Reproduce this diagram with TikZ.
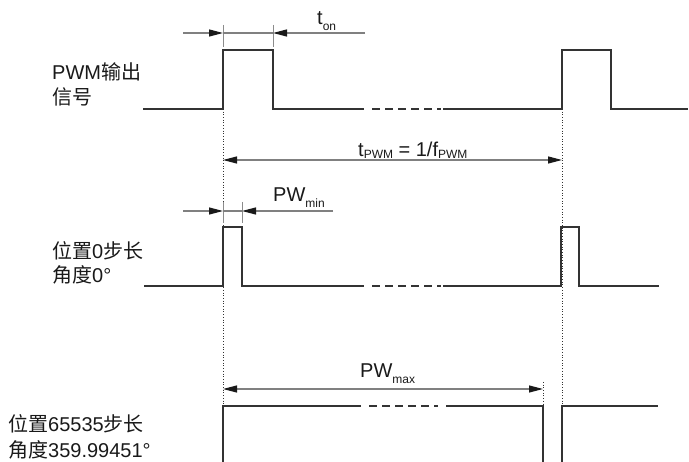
\documentclass[tikz,border=0pt]{standalone}
\usepackage{fontspec}
\setmainfont{Liberation Sans}
\newfontfamily\cjk{Noto Sans CJK SC}
\usetikzlibrary{arrows.meta}

\newcommand{\lowsub}[2][-3pt]{\raisebox{#1}{\fontsize{12}{12}\selectfont #2}}

\begin{document}
\begin{tikzpicture}[
  x=1pt, y=-1pt,
  >={Triangle[length=14pt, width=7pt, color=black!90]},
  every node/.style={font=\fontsize{20}{24}\selectfont, inner sep=0pt, text=black!90},
  signal/.style={line width=2pt, black!80},
  gapline/.style={signal, dash pattern=on 4pt off 8pt on 8pt off 5pt on 8pt off 5pt on 8pt off 5pt on 8pt off 5pt on 8pt off 5pt},
  dimline/.style={line width=1.2pt, black!50},
  tickline/.style={line width=0.8pt, black!45},
  guide/.style={line width=0.7pt, black!80, dotted}
]
\useasboundingbox (0,0) rectangle (689,462);

\node[anchor=base west] (pwm-label-a) at (52,80) {PWM{\cjk 输出}};
\node[anchor=base west] (pwm-label-b) at (52,105) {{\cjk 信号}};
\node[anchor=base west] (zero-label-a) at (52,259) {{\cjk 位置}0{\cjk 步长}};
\node[anchor=base west] (zero-label-b) at (52,283) {{\cjk 角度}0°};
\node[anchor=base west] (full-label-a) at (8,432) {{\cjk 位置}65535{\cjk 步长}};
\node[anchor=base west] (full-label-b) at (8,458) {{\cjk 角度}359.99451°};

\coordinate (ton-in) at (183,33);
\coordinate (ton-l) at (223,33);
\coordinate (ton-r) at (273,33);
\coordinate (ton-out) at (365,33);
\coordinate (tpwm-l) at (223,160);
\coordinate (tpwm-r) at (562,160);
\coordinate (pwmin-in) at (183,211);
\coordinate (pwmin-l) at (223,211);
\coordinate (pwmin-r) at (242,211);
\coordinate (pwmin-out) at (333,211);
\coordinate (pwmax-l) at (223,389);
\coordinate (pwmax-r) at (543,389);

\draw[guide] (223,109) -- (223,406);
\draw[guide] (562,109) -- (562,406);
\draw[guide] (543,382) -- (543,406);

\draw[signal] (143,109) -- (223,109) -- (223,50) -- (273,50) -- (273,109) -- (360,109);
\draw[gapline] (360,109) -- (443,109);
\draw[signal] (443,109) -- (562,109) -- (562,50) -- (611,50) -- (611,109) -- (688,109);

\draw[signal] (144,286) -- (223,286) -- (223,227) -- (242,227) -- (242,286) -- (360,286);
\draw[gapline] (360,286) -- (443,286);
\draw[signal] (443,286) -- (561,286) -- (561,227) -- (579,227) -- (579,286) -- (659,286);

\draw[signal] (223,462) -- (223,406) -- (357,406);
\draw[gapline] (357,406) -- (447,406);
\draw[signal] (447,406) -- (543,406) -- (543,462);
\draw[signal] (562,462) -- (562,406) -- (658,406);

\draw[tickline] ([yshift=8pt]ton-l) -- ([yshift=-14pt]ton-l);
\draw[tickline] ([yshift=8pt]ton-r) -- ([yshift=-14pt]ton-r);
\draw[dimline, ->] (ton-in) -- (ton-l);
\draw[dimline] (ton-l) -- (ton-r);
\draw[dimline, ->] (ton-out) -- (ton-r);
\node[anchor=base west] (ton-label) at (317,25) {t\lowsub[-6pt]{on}};

\draw[dimline, <->] (tpwm-l) -- (tpwm-r);
\node[anchor=base west] (tpwm-label) at (358,157) {t\lowsub[-2pt]{PWM} = 1/f\lowsub[-2pt]{PWM}};

\draw[tickline] ([yshift=9pt]pwmin-l) -- ([yshift=-12pt]pwmin-l);
\draw[tickline] ([yshift=9pt]pwmin-r) -- ([yshift=-12pt]pwmin-r);
\draw[dimline, ->] (pwmin-in) -- (pwmin-l);
\draw[dimline] (pwmin-l) -- (pwmin-r);
\draw[dimline, ->] (pwmin-out) -- (pwmin-r);
\node[anchor=base west] (pwmin-label) at (273,202) {PW\lowsub[-6pt]{min}};

\draw[dimline, <->] (pwmax-l) -- (pwmax-r);
\node[anchor=base west] (pwmax-label) at (360,378) {PW\lowsub[-6pt]{max}};
\end{tikzpicture}
\end{document}
